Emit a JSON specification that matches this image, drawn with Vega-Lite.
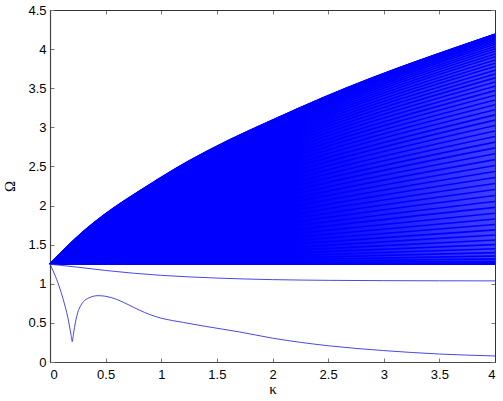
{
"$schema":"https://vega.github.io/schema/vega-lite/v6.json",
"width":445,"height":352,
"autosize":{"type":"none"},
"padding":{"left":50,"top":10,"right":8,"bottom":39},
"background":"white",
"config":{
 "view":{"stroke":"#333","strokeWidth":1},
 "axis":{"labelFont":"Liberation Sans","labelFontSize":13,"labelColor":"#000","titleFont":"Liberation Serif","titleFontSize":15,"titleFontWeight":"normal","titleColor":"#000","grid":false,"domainColor":"#444","domainWidth":1.2,"tickColor":"#777","tickWidth":1,"tickSize":-4}
},
"datasets":{
"fan":[
{"n":0,"k":0,"w":1.25},{"n":0,"k":4,"w":1.25},
{"n":1,"k":0,"w":1.25},{"n":1,"k":0.25,"w":1.2503},{"n":1,"k":1,"w":1.2511},{"n":1,"k":2.25,"w":1.2525},{"n":1,"k":4,"w":1.2544},
{"n":2,"k":0,"w":1.25},{"n":2,"k":0.25,"w":1.2511},{"n":2,"k":1,"w":1.2544},{"n":2,"k":2.25,"w":1.2598},{"n":2,"k":4,"w":1.2674},
{"n":3,"k":0,"w":1.25},{"n":3,"k":0.25,"w":1.2525},{"n":3,"k":1,"w":1.2598},{"n":3,"k":2.25,"w":1.2720},{"n":3,"k":4,"w":1.2888},
{"n":4,"k":0,"w":1.25},{"n":4,"k":0.25,"w":1.2544},{"n":4,"k":1,"w":1.2674},{"n":4,"k":2.25,"w":1.2887},{"n":4,"k":4,"w":1.3181},
{"n":5,"k":0,"w":1.25},{"n":5,"k":0.25,"w":1.2568},{"n":5,"k":1,"w":1.2770},{"n":5,"k":2.25,"w":1.3099},{"n":5,"k":4,"w":1.3546},
{"n":6,"k":0,"w":1.25},{"n":6,"k":0.25,"w":1.2597},{"n":6,"k":1,"w":1.2886},{"n":6,"k":2.25,"w":1.3352},{"n":6,"k":4,"w":1.3979},
{"n":7,"k":0,"w":1.25},{"n":7,"k":0.25,"w":1.2632},{"n":7,"k":1,"w":1.3020},{"n":7,"k":2.25,"w":1.3643},{"n":7,"k":4,"w":1.4470},
{"n":8,"k":0,"w":1.25},{"n":8,"k":0.25,"w":1.2672},{"n":8,"k":1,"w":1.3173},{"n":8,"k":2.25,"w":1.3970},{"n":8,"k":4,"w":1.5014},
{"n":9,"k":0,"w":1.25},{"n":9,"k":0.25,"w":1.2716},{"n":9,"k":1,"w":1.3343},{"n":9,"k":2.25,"w":1.4328},{"n":9,"k":4,"w":1.5603},
{"n":10,"k":0,"w":1.25},{"n":10,"k":0.25,"w":1.2765},{"n":10,"k":1,"w":1.3529},{"n":10,"k":2.25,"w":1.4715},{"n":10,"k":4,"w":1.6230},
{"n":11,"k":0,"w":1.25},{"n":11,"k":0.25,"w":1.2819},{"n":11,"k":1,"w":1.3730},{"n":11,"k":2.25,"w":1.5128},{"n":11,"k":4,"w":1.6891},
{"n":12,"k":0,"w":1.25},{"n":12,"k":0.25,"w":1.2876},{"n":12,"k":1,"w":1.3944},{"n":12,"k":2.25,"w":1.5562},{"n":12,"k":4,"w":1.7579},
{"n":13,"k":0,"w":1.25},{"n":13,"k":0.25,"w":1.2938},{"n":13,"k":1,"w":1.4171},{"n":13,"k":2.25,"w":1.6017},{"n":13,"k":4,"w":1.8290},
{"n":14,"k":0,"w":1.25},{"n":14,"k":0.25,"w":1.3004},{"n":14,"k":1,"w":1.4409},{"n":14,"k":2.25,"w":1.6488},{"n":14,"k":4,"w":1.9019},
{"n":15,"k":0,"w":1.25},{"n":15,"k":0.25,"w":1.3073},{"n":15,"k":1,"w":1.4657},{"n":15,"k":2.25,"w":1.6972},{"n":15,"k":4,"w":1.9763},
{"n":16,"k":0,"w":1.25},{"n":16,"k":0.25,"w":1.3145},{"n":16,"k":1,"w":1.4914},{"n":16,"k":2.25,"w":1.7468},{"n":16,"k":4,"w":2.0517},
{"n":17,"k":0,"w":1.25},{"n":17,"k":0.25,"w":1.3221},{"n":17,"k":1,"w":1.5179},{"n":17,"k":2.25,"w":1.7974},{"n":17,"k":4,"w":2.1279},
{"n":18,"k":0,"w":1.25},{"n":18,"k":0.25,"w":1.3299},{"n":18,"k":1,"w":1.5450},{"n":18,"k":2.25,"w":1.8486},{"n":18,"k":4,"w":2.2046},
{"n":19,"k":0,"w":1.25},{"n":19,"k":0.25,"w":1.3380},{"n":19,"k":1,"w":1.5726},{"n":19,"k":2.25,"w":1.9004},{"n":19,"k":4,"w":2.2815},
{"n":20,"k":0,"w":1.25},{"n":20,"k":0.25,"w":1.3463},{"n":20,"k":1,"w":1.6008},{"n":20,"k":2.25,"w":1.9526},{"n":20,"k":4,"w":2.3585},
{"n":21,"k":0,"w":1.25},{"n":21,"k":0.25,"w":1.3548},{"n":21,"k":1,"w":1.6293},{"n":21,"k":2.25,"w":2.0049},{"n":21,"k":4,"w":2.4353},
{"n":22,"k":0,"w":1.25},{"n":22,"k":0.25,"w":1.3635},{"n":22,"k":1,"w":1.6580},{"n":22,"k":2.25,"w":2.0572},{"n":22,"k":4,"w":2.5117},
{"n":23,"k":0,"w":1.25},{"n":23,"k":0.25,"w":1.3723},{"n":23,"k":1,"w":1.6869},{"n":23,"k":2.25,"w":2.1095},{"n":23,"k":4,"w":2.5876},
{"n":24,"k":0,"w":1.25},{"n":24,"k":0.25,"w":1.3813},{"n":24,"k":1,"w":1.7159},{"n":24,"k":2.25,"w":2.1615},{"n":24,"k":4,"w":2.6628},
{"n":25,"k":0,"w":1.25},{"n":25,"k":0.25,"w":1.3904},{"n":25,"k":1,"w":1.7450},{"n":25,"k":2.25,"w":2.2131},{"n":25,"k":4,"w":2.7371},
{"n":26,"k":0,"w":1.25},{"n":26,"k":0.25,"w":1.3995},{"n":26,"k":1,"w":1.7739},{"n":26,"k":2.25,"w":2.2643},{"n":26,"k":4,"w":2.8106},
{"n":27,"k":0,"w":1.25},{"n":27,"k":0.25,"w":1.4087},{"n":27,"k":1,"w":1.8027},{"n":27,"k":2.25,"w":2.3148},{"n":27,"k":4,"w":2.8829},
{"n":28,"k":0,"w":1.25},{"n":28,"k":0.25,"w":1.4178},{"n":28,"k":1,"w":1.8312},{"n":28,"k":2.25,"w":2.3648},{"n":28,"k":4,"w":2.9540},
{"n":29,"k":0,"w":1.25},{"n":29,"k":0.25,"w":1.4270},{"n":29,"k":1,"w":1.8595},{"n":29,"k":2.25,"w":2.4139},{"n":29,"k":4,"w":3.0239},
{"n":30,"k":0,"w":1.25},{"n":30,"k":0.25,"w":1.4361},{"n":30,"k":1,"w":1.8875},{"n":30,"k":2.25,"w":2.4622},{"n":30,"k":4,"w":3.0923},
{"n":31,"k":0,"w":1.25},{"n":31,"k":0.25,"w":1.4452},{"n":31,"k":1,"w":1.9150},{"n":31,"k":2.25,"w":2.5096},{"n":31,"k":4,"w":3.1593},
{"n":32,"k":0,"w":1.25},{"n":32,"k":0.25,"w":1.4542},{"n":32,"k":1,"w":1.9421},{"n":32,"k":2.25,"w":2.5559},{"n":32,"k":4,"w":3.2247},
{"n":33,"k":0,"w":1.25},{"n":33,"k":0.25,"w":1.4631},{"n":33,"k":1,"w":1.9686},{"n":33,"k":2.25,"w":2.6012},{"n":33,"k":4,"w":3.2885},
{"n":34,"k":0,"w":1.25},{"n":34,"k":0.25,"w":1.4719},{"n":34,"k":1,"w":1.9946},{"n":34,"k":2.25,"w":2.6454},{"n":34,"k":4,"w":3.3505},
{"n":35,"k":0,"w":1.25},{"n":35,"k":0.25,"w":1.4805},{"n":35,"k":1,"w":2.0199},{"n":35,"k":2.25,"w":2.6883},{"n":35,"k":4,"w":3.4107},
{"n":36,"k":0,"w":1.25},{"n":36,"k":0.25,"w":1.4890},{"n":36,"k":1,"w":2.0446},{"n":36,"k":2.25,"w":2.7300},{"n":36,"k":4,"w":3.4691},
{"n":37,"k":0,"w":1.25},{"n":37,"k":0.25,"w":1.4972},{"n":37,"k":1,"w":2.0686},{"n":37,"k":2.25,"w":2.7704},{"n":37,"k":4,"w":3.5255},
{"n":38,"k":0,"w":1.25},{"n":38,"k":0.25,"w":1.5053},{"n":38,"k":1,"w":2.0919},{"n":38,"k":2.25,"w":2.8094},{"n":38,"k":4,"w":3.5800},
{"n":39,"k":0,"w":1.25},{"n":39,"k":0.25,"w":1.5131},{"n":39,"k":1,"w":2.1144},{"n":39,"k":2.25,"w":2.8470},{"n":39,"k":4,"w":3.6324},
{"n":40,"k":0,"w":1.25},{"n":40,"k":0.25,"w":1.5207},{"n":40,"k":1,"w":2.1360},{"n":40,"k":2.25,"w":2.8831},{"n":40,"k":4,"w":3.6827},
{"n":41,"k":0,"w":1.25},{"n":41,"k":0.25,"w":1.5280},{"n":41,"k":1,"w":2.1568},{"n":41,"k":2.25,"w":2.9177},{"n":41,"k":4,"w":3.7309},
{"n":42,"k":0,"w":1.25},{"n":42,"k":0.25,"w":1.5350},{"n":42,"k":1,"w":2.1767},{"n":42,"k":2.25,"w":2.9509},{"n":42,"k":4,"w":3.7769},
{"n":43,"k":0,"w":1.25},{"n":43,"k":0.25,"w":1.5418},{"n":43,"k":1,"w":2.1957},{"n":43,"k":2.25,"w":2.9823},{"n":43,"k":4,"w":3.8206},
{"n":44,"k":0,"w":1.25},{"n":44,"k":0.25,"w":1.5482},{"n":44,"k":1,"w":2.2138},{"n":44,"k":2.25,"w":3.0122},{"n":44,"k":4,"w":3.8621},
{"n":45,"k":0,"w":1.25},{"n":45,"k":0.25,"w":1.5544},{"n":45,"k":1,"w":2.2308},{"n":45,"k":2.25,"w":3.0405},{"n":45,"k":4,"w":3.9012},
{"n":46,"k":0,"w":1.25},{"n":46,"k":0.25,"w":1.5601},{"n":46,"k":1,"w":2.2470},{"n":46,"k":2.25,"w":3.0670},{"n":46,"k":4,"w":3.9380},
{"n":47,"k":0,"w":1.25},{"n":47,"k":0.25,"w":1.5656},{"n":47,"k":1,"w":2.2620},{"n":47,"k":2.25,"w":3.0919},{"n":47,"k":4,"w":3.9724},
{"n":48,"k":0,"w":1.25},{"n":48,"k":0.25,"w":1.5707},{"n":48,"k":1,"w":2.2761},{"n":48,"k":2.25,"w":3.1150},{"n":48,"k":4,"w":4.0043},
{"n":49,"k":0,"w":1.25},{"n":49,"k":0.25,"w":1.5754},{"n":49,"k":1,"w":2.2891},{"n":49,"k":2.25,"w":3.1363},{"n":49,"k":4,"w":4.0338},
{"n":50,"k":0,"w":1.25},{"n":50,"k":0.25,"w":1.5797},{"n":50,"k":1,"w":2.3010},{"n":50,"k":2.25,"w":3.1559},{"n":50,"k":4,"w":4.0609},
{"n":51,"k":0,"w":1.25},{"n":51,"k":0.25,"w":1.5837},{"n":51,"k":1,"w":2.3118},{"n":51,"k":2.25,"w":3.1736},{"n":51,"k":4,"w":4.0854},
{"n":52,"k":0,"w":1.25},{"n":52,"k":0.25,"w":1.5872},{"n":52,"k":1,"w":2.3215},{"n":52,"k":2.25,"w":3.1896},{"n":52,"k":4,"w":4.1074},
{"n":53,"k":0,"w":1.25},{"n":53,"k":0.25,"w":1.5904},{"n":53,"k":1,"w":2.3302},{"n":53,"k":2.25,"w":3.2037},{"n":53,"k":4,"w":4.1269},
{"n":54,"k":0,"w":1.25},{"n":54,"k":0.25,"w":1.5931},{"n":54,"k":1,"w":2.3376},{"n":54,"k":2.25,"w":3.2159},{"n":54,"k":4,"w":4.1438},
{"n":55,"k":0,"w":1.25},{"n":55,"k":0.25,"w":1.5955},{"n":55,"k":1,"w":2.3440},{"n":55,"k":2.25,"w":3.2263},{"n":55,"k":4,"w":4.1581},
{"n":56,"k":0,"w":1.25},{"n":56,"k":0.25,"w":1.5974},{"n":56,"k":1,"w":2.3492},{"n":56,"k":2.25,"w":3.2348},{"n":56,"k":4,"w":4.1699},
{"n":57,"k":0,"w":1.25},{"n":57,"k":0.25,"w":1.5988},{"n":57,"k":1,"w":2.3533},{"n":57,"k":2.25,"w":3.2415},{"n":57,"k":4,"w":4.1790},
{"n":58,"k":0,"w":1.25},{"n":58,"k":0.25,"w":1.5999},{"n":58,"k":1,"w":2.3562},{"n":58,"k":2.25,"w":3.2462},{"n":58,"k":4,"w":4.1855},
{"n":59,"k":0,"w":1.25},{"n":59,"k":0.25,"w":1.6006},{"n":59,"k":1,"w":2.3579},{"n":59,"k":2.25,"w":3.2491},{"n":59,"k":4,"w":4.1895},
{"n":60,"k":0,"w":1.25},{"n":60,"k":0.25,"w":1.6008},{"n":60,"k":1,"w":2.3585},{"n":60,"k":2.25,"w":3.2500},{"n":60,"k":4,"w":4.1908}
],
"loc":[
{"c":"a","k":0,"w":1.25},{"c":"a","k":0.1,"w":1.235},{"c":"a","k":0.25,"w":1.212},{"c":"a","k":0.5,"w":1.17},{"c":"a","k":0.75,"w":1.135},{"c":"a","k":1,"w":1.108},{"c":"a","k":1.5,"w":1.073},{"c":"a","k":2,"w":1.053},{"c":"a","k":2.5,"w":1.044},{"c":"a","k":3,"w":1.04},{"c":"a","k":3.5,"w":1.038},{"c":"a","k":4,"w":1.037},
{"c":"b","k":0,"w":1.25},{"c":"b","k":0.02,"w":1.19},{"c":"b","k":0.04,"w":1.125},{"c":"b","k":0.06,"w":1.055},{"c":"b","k":0.08,"w":0.975},{"c":"b","k":0.1,"w":0.89},{"c":"b","k":0.12,"w":0.795},{"c":"b","k":0.14,"w":0.69},{"c":"b","k":0.16,"w":0.57},{"c":"b","k":0.175,"w":0.46},{"c":"b","k":0.19,"w":0.34},{"c":"b","k":0.2,"w":0.26},{"c":"b","k":0.21,"w":0.35},{"c":"b","k":0.22,"w":0.44},{"c":"b","k":0.235,"w":0.55},{"c":"b","k":0.25,"w":0.635},{"c":"b","k":0.27,"w":0.705},{"c":"b","k":0.3,"w":0.77},{"c":"b","k":0.35,"w":0.82},{"c":"b","k":0.43,"w":0.848},{"c":"b","k":0.5,"w":0.84},{"c":"b","k":0.6,"w":0.8},{"c":"b","k":0.7,"w":0.735},{"c":"b","k":0.8,"w":0.665},{"c":"b","k":0.9,"w":0.605},{"c":"b","k":1.0,"w":0.56},{"c":"b","k":1.1,"w":0.53},{"c":"b","k":1.2,"w":0.505},{"c":"b","k":1.4,"w":0.455},{"c":"b","k":1.7,"w":0.385},{"c":"b","k":2.0,"w":0.305},{"c":"b","k":2.5,"w":0.208},{"c":"b","k":3.0,"w":0.146},{"c":"b","k":3.5,"w":0.102},{"c":"b","k":4.0,"w":0.077}
]
},
"layer":[
{"data":{"name":"fan"},
 "transform":[{"filter":"datum.n == 60"}],
 "mark":{"type":"area","interpolate":"monotone","color":{"gradient":"linear","x1":0,"x2":1,"y1":0,"y2":0,"stops":[{"offset":0,"color":"#0000ff"},{"offset":0.55,"color":"#0000ff"},{"offset":1,"color":"#4040ff"}]}},
 "encoding":{
  "x":{"field":"k","type":"quantitative","scale":{"domain":[0,4],"nice":false},"axis":null},
  "y":{"field":"w","type":"quantitative","scale":{"domain":[0,4.5],"nice":false},"axis":null},
  "y2":{"datum":1.25}
 }},
{"data":{"name":"fan"},
 "mark":{"type":"line","interpolate":"monotone","color":"#0000ff","strokeWidth":1.6},
 "encoding":{
  "x":{"field":"k","type":"quantitative","scale":{"domain":[0,4],"nice":false},
       "axis":{"title":"κ","values":[0,0.5,1,1.5,2,2.5,3,3.5,4],"format":"~g","labelPadding":10,"titlePadding":0,"orient":"bottom"}},
  "y":{"field":"w","type":"quantitative","scale":{"domain":[0,4.5],"nice":false},
       "axis":{"title":"Ω","values":[0,0.5,1,1.5,2,2.5,3,3.5,4,4.5],"format":"~g","labelPadding":8,"titlePadding":10,"orient":"left"}},
  "detail":{"field":"n","type":"nominal"}
 }},
{"data":{"name":"loc"},
 "mark":{"type":"line","interpolate":"monotone","color":"#3333e0","strokeWidth":0.9},
 "encoding":{
  "x":{"field":"k","type":"quantitative","scale":{"domain":[0,4],"nice":false},
       "axis":{"orient":"top","labels":false,"title":null,"values":[0,0.5,1,1.5,2,2.5,3,3.5,4],"domainColor":"#333","domainWidth":1}},
  "y":{"field":"w","type":"quantitative","scale":{"domain":[0,4.5],"nice":false},
       "axis":{"orient":"right","labels":false,"title":null,"values":[0,0.5,1,1.5,2,2.5,3,3.5,4,4.5],"domainColor":"#333","domainWidth":1}},
  "detail":{"field":"c","type":"nominal"}
 }}
],
"resolve":{"axis":{"x":"independent","y":"independent"}}
}
